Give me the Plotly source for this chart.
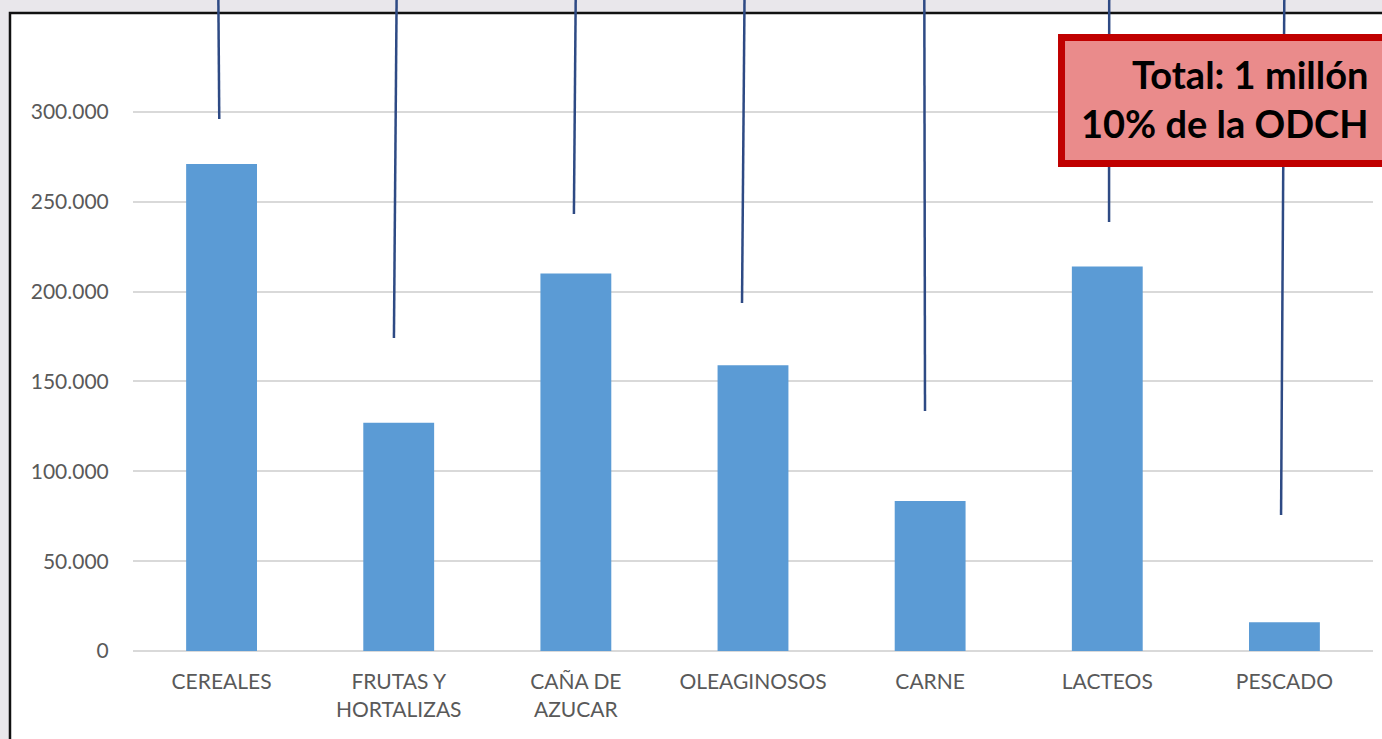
import plotly.graph_objects as go

categories = ["CEREALES", "FRUTAS Y<br>HORTALIZAS", "CAÑA DE<br>AZUCAR", "OLEAGINOSOS",
              "CARNE", "LACTEOS", "PESCADO"]
values = [271000, 127000, 210000, 159000, 83500, 214000, 16000]
tick_vals = [0, 50000, 100000, 150000, 200000, 250000, 300000]
tick_text = ["0", "50.000", "100.000", "150.000", "200.000", "250.000", "300.000"]

# connector lines (pointing to pictures above the chart): category offsets and end value
conn_top_off = [-0.019, -0.011, 0.0, -0.047, -0.033, 0.011, 0.0]
conn_bot_off = [-0.013, -0.027, -0.011, -0.062, -0.029, 0.010, -0.019]
conn_end_val = [296000, 174200, 243200, 193700, 133600, 238700, 75700]

box_text = "Total: 1 millón<br>10% de la ODCH"

Y_MAX = 340000
N = len(categories)

fig = go.Figure()
fig.add_trace(go.Bar(x=list(range(N)), y=values, marker_color="#5B9BD5",
                     marker_line_width=0, width=0.4))

shapes = []
# white frame
shapes.append(dict(type="rect", xref="paper", yref="paper", x0=-0.0992, x1=1.05,
                   y0=-0.3, y1=1.0442, fillcolor="white",
                   line=dict(color="#111111", width=2.5), layer="below"))
# connector lines
for i in range(N):
    shapes.append(dict(type="line", xref="paper", yref="paper",
                       x0=(i + 0.5 + conn_top_off[i]) / N, y0=1.1,
                       x1=(i + 0.5 + conn_bot_off[i]) / N, y1=conn_end_val[i] / Y_MAX,
                       line=dict(color="#2E4A84", width=2.5), layer="above"))
# red box
shapes.append(dict(type="rect", xref="paper", yref="paper", x0=0.7488, x1=1.05,
                   y0=0.7979, y1=1.0040, fillcolor="#EA8B8B",
                   line=dict(color="#C00000", width=7), layer="above"))

fig.update_layout(
    width=1382, height=739,
    margin=dict(l=133, r=9, t=40, b=88),
    paper_bgcolor="#E9E7EB",
    plot_bgcolor="rgba(0,0,0,0)",
    showlegend=False,
    shapes=shapes,
    font=dict(family="Lato", color="#595959", size=21),
    annotations=[dict(xref="paper", yref="paper", x=0.998, y=0.904,
                      xanchor="right", yanchor="middle", align="right",
                      text=box_text, showarrow=False,
                      font=dict(family="Lato", size=38, color="#000000", weight="bold"))],
    bargap=0.6,
)
fig.update_xaxes(range=[-0.5, N - 0.5], tickmode="array", tickvals=list(range(N)),
                 ticktext=categories, showgrid=False, showline=False, zeroline=False,
                 ticks="outside", ticklen=12, tickcolor="rgba(0,0,0,0)",
                 tickfont=dict(family="Lato", size=21, color="#595959"))
fig.update_yaxes(range=[0, Y_MAX], tickmode="array", tickvals=tick_vals, ticktext=tick_text,
                 showgrid=True, gridcolor="#D9D9D9", gridwidth=1.5,
                 zeroline=True, zerolinecolor="#D9D9D9", zerolinewidth=1.5,
                 showline=False, ticks="outside", ticklen=19, tickcolor="rgba(0,0,0,0)",
                 tickfont=dict(family="Lato", size=21, color="#595959"))

fig.write_html("out.html", config={"displayModeBar": False},
               post_script="document.body.style.margin='0';document.body.style.overflow='hidden';")
